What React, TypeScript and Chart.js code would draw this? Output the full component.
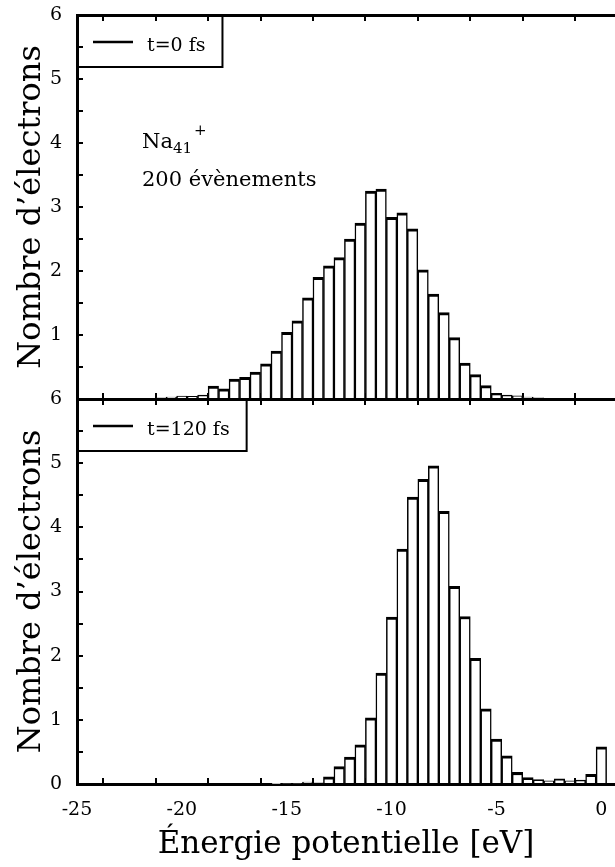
import React, { useEffect, useRef } from "react";
import { Chart, registerables } from "chart.js";

Chart.register(...registerables);

const FONT = "'DejaVu Serif', serif";

// Centres of the 0.5 eV energy bins (eV)
const binCentres = [
  -25, -24.5, -24, -23.5, -23, -22.5, -22, -21.5, -21, -20.5,
  -20, -19.5, -19, -18.5, -18, -17.5, -17, -16.5, -16, -15.5,
  -15, -14.5, -14, -13.5, -13, -12.5, -12, -11.5, -11, -10.5,
  -10, -9.5, -9, -8.5, -8, -7.5, -7, -6.5, -6, -5.5,
  -5, -4.5, -4, -3.5, -3, -2.5, -2, -1.5, -1, -0.5,
  0,
];

// Mean number of electrons per bin at t = 0 fs
const electronsT0 = [
  0, 0, 0, 0, 0, 0.005, 0.01, 0.015, 0.02, 0.03,
  0.045, 0.04, 0.06, 0.2, 0.16, 0.31, 0.34, 0.42, 0.55, 0.75,
  1.04, 1.22, 1.58, 1.9, 2.08, 2.21, 2.5, 2.75, 3.25, 3.28,
  2.84, 2.91, 2.66, 2.02, 1.64, 1.35, 0.96, 0.56, 0.38, 0.21,
  0.09, 0.06, 0.05, 0.03, 0.02, 0.01, 0.005, 0, 0, 0,
  0,
];

// Mean number of electrons per bin at t = 120 fs
const electronsT120 = [
  0, 0, 0, 0, 0, 0, 0, 0, 0, 0,
  0, 0, 0, 0, 0, 0, 0, 0, 0, 0.005,
  0.01, 0.01, 0.03, 0.02, 0.11, 0.27, 0.42, 0.61, 1.03, 1.73,
  2.6, 3.66, 4.47, 4.75, 4.96, 4.25, 3.08, 2.61, 1.96, 1.17,
  0.7, 0.44, 0.18, 0.1, 0.07, 0.05, 0.08, 0.05, 0.06, 0.15,
  0.58,
];

const xTickValues = [-25, -22.5, -20, -17.5, -15, -12.5, -10, -7.5, -5, -2.5, 0];
const yTickValues = [0, 0.5, 1, 1.5, 2, 2.5, 3, 3.5, 4, 4.5, 5, 5.5, 6];

const X_MIN = -25;
const X_MAX = 0.65;
const Y_MIN = 0;
const Y_MAX = 6;

const yTitle = "Nombre d’électrons";
const xTitle = "Énergie potentielle [eV]";
const legendT0 = "t=0 fs";
const legendT120 = "t=120 fs";
const clusterName = "Na";
const clusterSize = "41";
const clusterCharge = "+";
const eventsText = "200 évènements";

const W = 615;

type PanelOpts = {
  values: number[];
  legend: string;
  padTop: number;
  xAxisHeight: number;
  showXLabels: boolean;
  hideZeroLabel: boolean;
  withNote: boolean;
};

const tickGrid = {
  drawOnChartArea: false,
  drawTicks: true,
  tickLength: -6,
  color: "#000",
  lineWidth: 2,
};

const axisBorder = { display: true, width: 3, color: "#000" };

// keep the plot frame fixed: no extra room reserved for overhanging labels
function noLabelPadding(s: any) {
  s.paddingTop = 0;
  s.paddingBottom = 0;
  s.paddingLeft = 0;
  s.paddingRight = 0;
}

function decorPlugin(legend: string, withNote: boolean) {
  return {
    id: "panelDecor",
    afterDraw(chart: any) {
      const { ctx, chartArea } = chart;
      const L = chartArea.left;
      const T = chartArea.top;
      ctx.save();
      // legend frame with a line sample
      ctx.font = `19px ${FONT}`;
      const tw = ctx.measureText(legend).width;
      ctx.strokeStyle = "#000";
      ctx.lineWidth = 2;
      ctx.strokeRect(L, T, 70 + tw + 17, 52);
      ctx.lineWidth = 2.5;
      ctx.beginPath();
      ctx.moveTo(L + 16, T + 27);
      ctx.lineTo(L + 56, T + 27);
      ctx.stroke();
      ctx.fillStyle = "#000";
      ctx.textBaseline = "alphabetic";
      ctx.textAlign = "left";
      ctx.fillText(legend, L + 70, T + 36);

      if (withNote) {
        const nx = L + 65;
        ctx.font = `21px ${FONT}`;
        ctx.fillText(clusterName, nx, T + 133);
        const naW = ctx.measureText(clusterName).width;
        ctx.font = `15px ${FONT}`;
        ctx.fillText(clusterSize, nx + naW, T + 138);
        const subW = ctx.measureText(clusterSize).width;
        ctx.fillText(clusterCharge, nx + naW + subW + 2, T + 120);
        ctx.font = `21px ${FONT}`;
        ctx.fillText(eventsText, nx, T + 171);
      }
      ctx.restore();
    },
  };
}

function buildConfig(o: PanelOpts): any {
  return {
    type: "bar",
    data: {
      datasets: [
        {
          data: binCentres.map((x, i) => ({ x, y: o.values[i] })),
          backgroundColor: "#ffffff",
          borderColor: "#000000",
          borderWidth: { top: 3, left: 1.5, right: 1.5, bottom: 0 },
          borderSkipped: "start",
          barPercentage: 1,
          categoryPercentage: 1,
        },
      ],
    },
    options: {
      animation: false,
      responsive: false,
      maintainAspectRatio: false,
      layout: { padding: { top: o.padTop, left: 0, right: 0, bottom: 0 } },
      plugins: {
        legend: { display: false },
        tooltip: { enabled: false },
      },
      scales: {
        x: {
          type: "linear",
          position: "bottom",
          min: X_MIN,
          max: X_MAX,
          offset: false,
          afterBuildTicks: (s: any) => {
            s.ticks = xTickValues.map((v) => ({ value: v }));
          },
          afterFit: (s: any) => {
            s.height = o.xAxisHeight;
            noLabelPadding(s);
          },
          grid: tickGrid,
          border: axisBorder,
          ticks: {
            display: o.showXLabels,
            autoSkip: false,
            maxRotation: 0,
            padding: 21,
            color: "#000",
            font: { family: FONT, size: 19 },
            callback: (v: number) => (v % 5 === 0 ? String(v) : ""),
          },
          title: {
            display: o.showXLabels,
            text: xTitle,
            color: "#000",
            font: { family: FONT, size: 31 },
            padding: { top: 0, bottom: 3 },
          },
        },
        xTop: {
          type: "linear",
          position: "top",
          min: X_MIN,
          max: X_MAX,
          offset: false,
          afterBuildTicks: (s: any) => {
            s.ticks = xTickValues.map((v) => ({ value: v }));
          },
          afterFit: (s: any) => {
            s.height = 0;
            noLabelPadding(s);
          },
          grid: tickGrid,
          border: axisBorder,
          ticks: { display: false },
        },
        y: {
          type: "linear",
          position: "left",
          min: Y_MIN,
          max: Y_MAX,
          afterBuildTicks: (s: any) => {
            s.ticks = yTickValues.map((v) => ({ value: v }));
          },
          afterFit: (s: any) => {
            s.width = 77;
            noLabelPadding(s);
          },
          grid: tickGrid,
          border: axisBorder,
          ticks: {
            autoSkip: false,
            padding: 21,
            color: "#000",
            font: { family: FONT, size: 19 },
            callback: (v: number) => {
              if (!Number.isInteger(v)) return "";
              if (o.hideZeroLabel && v === 0) return "";
              return String(v);
            },
          },
          title: {
            display: true,
            text: yTitle,
            color: "#000",
            font: { family: FONT, size: 32 },
            padding: { top: 12, bottom: 0 },
          },
        },
      },
    },
    plugins: [decorPlugin(o.legend, o.withNote)],
  };
}

const TOP_H = 410;
const BOTTOM_TOP = 385;
const BOTTOM_H = 867 - BOTTOM_TOP;

export default function App() {
  const topRef = useRef<HTMLCanvasElement | null>(null);
  const bottomRef = useRef<HTMLCanvasElement | null>(null);

  useEffect(() => {
    if (!topRef.current || !bottomRef.current) return;
    const top = new Chart(
      topRef.current,
      buildConfig({
        values: electronsT0,
        legend: legendT0,
        padTop: 15,
        xAxisHeight: TOP_H - 399,
        showXLabels: false,
        hideZeroLabel: true,
        withNote: true,
      })
    );
    const bottom = new Chart(
      bottomRef.current,
      buildConfig({
        values: electronsT120,
        legend: legendT120,
        padTop: 399 - BOTTOM_TOP,
        xAxisHeight: BOTTOM_H - (784 - BOTTOM_TOP),
        showXLabels: true,
        hideZeroLabel: false,
        withNote: false,
      })
    );
    return () => {
      top.destroy();
      bottom.destroy();
    };
  }, []);

  return (
    <div
      style={{
        position: "fixed",
        left: 0,
        top: 0,
        width: W,
        height: 867,
        background: "#fff",
        overflow: "hidden",
      }}
    >
      <canvas
        ref={topRef}
        width={W}
        height={TOP_H}
        style={{ position: "absolute", left: 0, top: 0, width: W, height: TOP_H }}
      />
      <canvas
        ref={bottomRef}
        width={W}
        height={BOTTOM_H}
        style={{ position: "absolute", left: 0, top: BOTTOM_TOP, width: W, height: BOTTOM_H }}
      />
    </div>
  );
}
